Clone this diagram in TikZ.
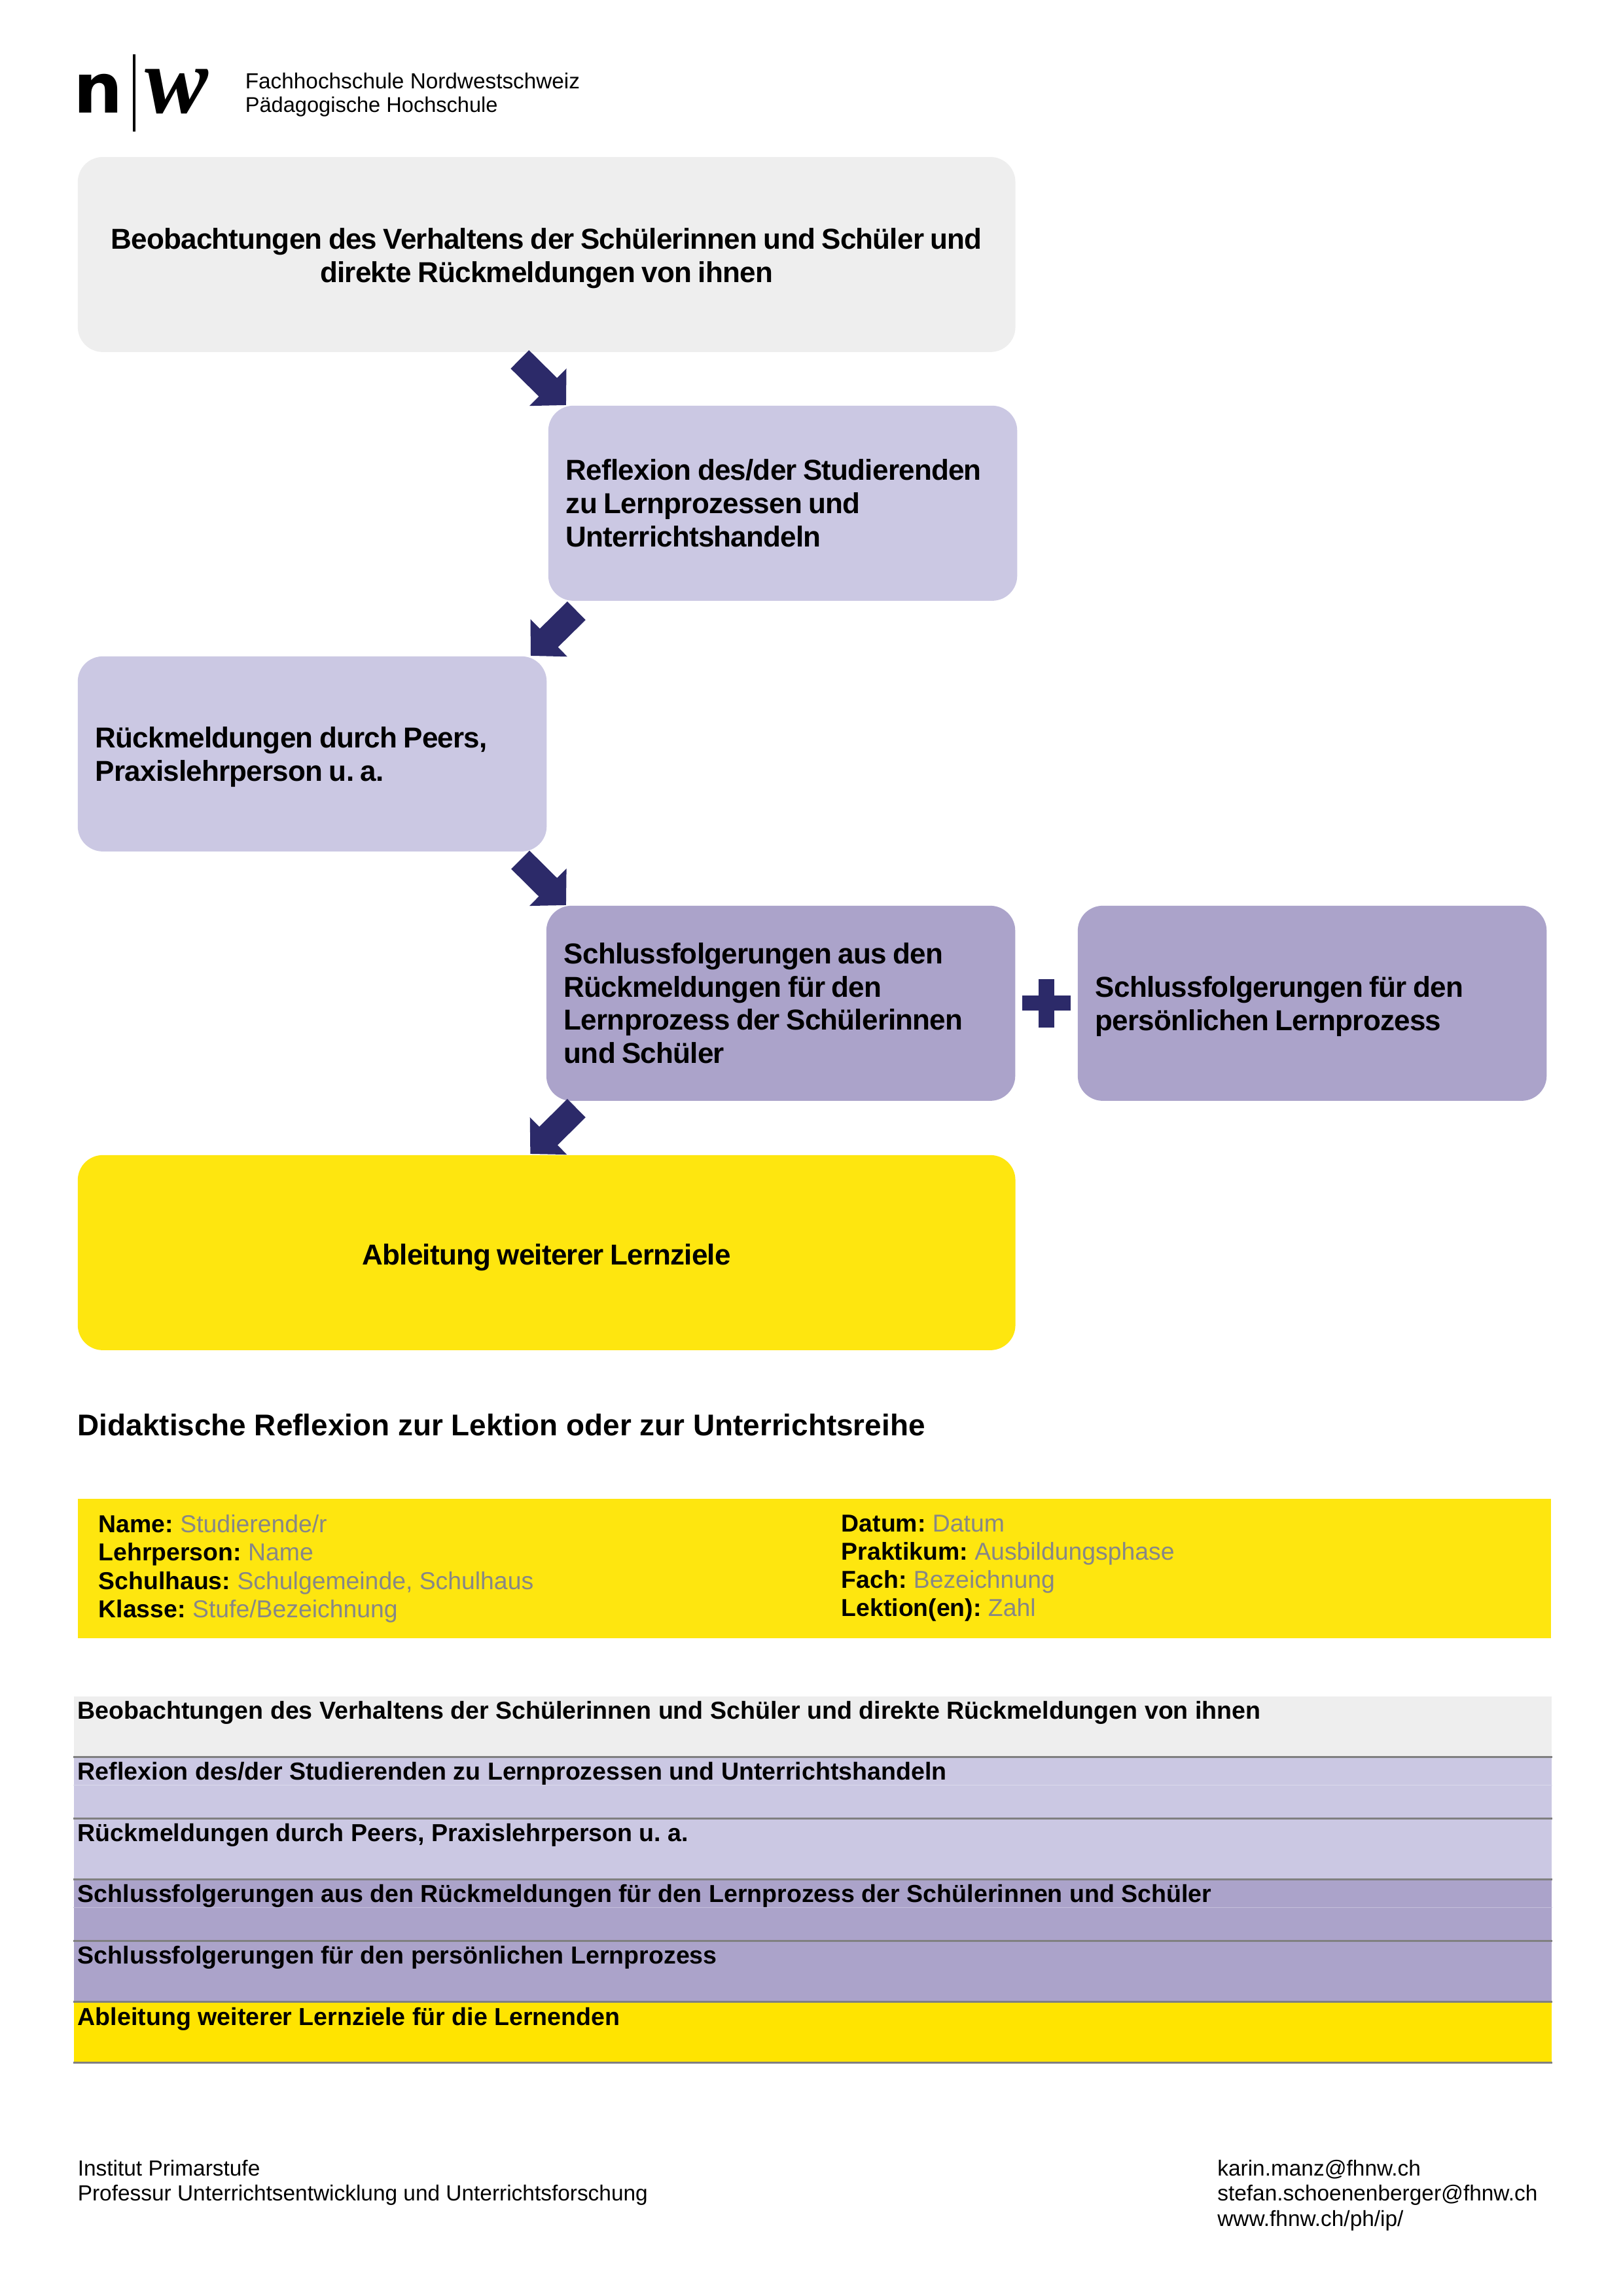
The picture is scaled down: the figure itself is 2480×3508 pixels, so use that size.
\documentclass[tikz,border=0pt]{standalone}
\usepackage{fontspec}
\setmainfont{Liberation Sans}
\newfontfamily\boxfont[LetterSpace=-1.8]{Liberation Sans}
\newfontfamily\logofont{Liberation Serif}
\newfontfamily\logosans{DejaVu Sans}
\usetikzlibrary{arrows.meta,calc}
\frenchspacing
\definecolor{greybox}{HTML}{EEEEEE}
\definecolor{lavbox}{HTML}{CBC8E3}
\definecolor{purplebox}{HTML}{ABA3CA}
\definecolor{navyarrow}{HTML}{2C2A69}
\definecolor{yellowbox}{HTML}{FEE60F}
\definecolor{yellowrow}{HTML}{FFE400}
\definecolor{ruleline}{HTML}{808080}
\definecolor{fieldgrey}{HTML}{878787}
\newcommand{\boxface}{\boxfont\bfseries\fontsize{10.6pt}{12.2pt}\selectfont\spaceskip 2.3pt\relax}
\tikzset{
  flowbox/.style={rectangle, rounded corners=9.2pt, anchor=north west, inner xsep=6.5pt, inner ysep=0pt,
    minimum height=71.8pt, text width=159.6pt, align=flush left, font=\boxface},
  widebox/.style={flowbox, text width=332.15pt, align=flush center},
  blockarrow/.style={draw=navyarrow, line width=9.54pt, -{Triangle[length=9.4pt,width=18.8pt]}},
  plusbar/.style={draw=navyarrow, line width=5.6pt},
  tablerow/.style={rectangle, anchor=north west, inner sep=0pt, minimum width=544pt, minimum height=22.5pt},
  rowtext/.style={anchor=base west, inner sep=0pt, font=\bfseries\fontsize{9.05pt}{10.4pt}\selectfont},
  rowrule/.style={draw=ruleline, line width=0.75pt},
  infotext/.style={anchor=north west, inner sep=0pt, align=left, font=\fontsize{9pt}{10.43pt}\selectfont},
  foottext/.style={anchor=north west, inner sep=0pt, align=left, font=\fontsize{8.05pt}{9.35pt}\selectfont},
}
\newcommand{\field}[2]{\textbf{#1:} \textcolor{fieldgrey}{#2}}
\newcommand{\dropline}[1]{\rule{0pt}{#1}}

\begin{document}
\begin{tikzpicture}[x=0.2409pt, y=-0.2409pt]
\useasboundingbox (0,0) rectangle (2480,3508);
% logo
\node (logon) [anchor=base west, inner sep=0pt, font=\logosans\bfseries\fontsize{25.5pt}{26pt}\selectfont] at (111.5,172) {n};
\draw[line width=0.85pt] (205,83) coordinate (logotop) -- (205,201) coordinate (logobot);
\node (logow) [anchor=base west, inner sep=0pt, font=\logofont\bfseries\itshape\fontsize{35pt}{35pt}\selectfont] at (221,172) {w};
\node (schoola) [anchor=base west, inner sep=0pt, font=\fontsize{8.03pt}{9pt}\selectfont] at (374,135) {Fachhochschule Nordwestschweiz};
\node (schoolb) [anchor=base west, inner sep=0pt, font=\fontsize{7.85pt}{9pt}\selectfont] at (374,171) {Pädagogische Hochschule};
% flow boxes
\node (beob) [widebox, fill=greybox] at (118,239) {\dropline{10.5pt}Beobachtungen des Verhaltens der Schülerinnen und Schüler und\\direkte Rückmeldungen von ihnen};
\node (refl) [flowbox, fill=lavbox] at (837,619) {Reflexion des/der Studierenden\\zu Lernprozessen und\\Unterrichtshandeln};
\node (rueck) [flowbox, fill=lavbox] at (118,1002) {\dropline{10pt}Rückmeldungen durch Peers,\\Praxislehrperson u. a.};
\node (schluss) [flowbox, fill=purplebox] at (834,1383) {Schlussfolgerungen aus den\\Rückmeldungen für den\\Lernprozess der Schülerinnen\\und Schüler};
\node (persoen) [flowbox, fill=purplebox] at (1646,1383) {\dropline{10pt}Schlussfolgerungen für den\\persönlichen Lernprozess};
\node (ableit) [widebox, fill=yellowbox] at (118,1764) {\dropline{11pt}Ableitung weiterer Lernziele};
% arrows
\draw[blockarrow] ([shift={(-40.9,10.4)}]beob.south) -- ([shift={(28,0)}]refl.north west);
\draw[blockarrow] ([shift={(43.85,14.4)}]refl.south west) -- ([shift={(-25.2,0)}]rueck.north east);
\draw[blockarrow] ([shift={(-41,12)}]rueck.south east) -- ([shift={(31,0)}]schluss.north west);
\draw[blockarrow] ([shift={(46.85,10.4)}]schluss.south west) -- ([shift={(-24.9,-1)}]ableit.north);
% plus
\coordinate (plusmid) at ($(schluss.east)!0.5!(persoen.west)$);
\draw[plusbar] ([shift={(-37,0)}]plusmid) -- ([shift={(37,0)}]plusmid);
\draw[plusbar] ([shift={(0,-37)}]plusmid) -- ([shift={(0,37)}]plusmid);
% heading
\node (heading) [anchor=base west, inner sep=0pt, font=\bfseries\fontsize{11.05pt}{13pt}\selectfont] at (118,2193) {Didaktische Reflexion zur Lektion oder zur Unterrichtsreihe};
% info band
\node (infoband) [anchor=north west, inner sep=0pt, fill=yellowbox, minimum width=542.3pt, minimum height=51.3pt] at (118,2289) {};
\node (infoleft) [infotext] at (150,2313.5) {\field{Name}{Studierende/r}\\\field{Lehrperson}{Name}\\\field{Schulhaus}{Schulgemeinde, Schulhaus}\\\field{Klasse}{Stufe/Bezeichnung}};
\node (inforight) [infotext] at (1285,2313.5) {\field{Datum}{Datum}\\\field{Praktikum}{Ausbildungsphase}\\\field{Fach}{Bezeichnung}\\\field{Lektion(en)}{Zahl}};
% table rows
\node (rowa) [tablerow, fill=greybox, minimum height=22.2pt] at (112,2591) {};
\node (rowb) [tablerow, fill=lavbox] at (112,2683) {};
\node (rowc) [tablerow, fill=lavbox] at (112,2776.5) {};
\node (rowd) [tablerow, fill=purplebox] at (112,2870) {};
\node (rowe) [tablerow, fill=purplebox] at (112,2963) {};
\node (rowf) [tablerow, fill=yellowrow] at (112,3056.5) {};
\draw[rowrule] (rowa.south west) -- (rowa.south east);
\draw[rowrule] (rowb.south west) -- (rowb.south east);
\draw[rowrule] (rowc.south west) -- (rowc.south east);
\draw[rowrule] (rowd.south west) -- (rowd.south east);
\draw[rowrule] (rowe.south west) -- (rowe.south east);
\draw[rowrule] (rowf.south west) -- (rowf.south east);
\draw[draw=lavbox!70!white, line width=0.25pt] ([shift={(0,44)}]rowb.north west) -- ([shift={(0,44)}]rowb.north east);
\draw[draw=purplebox!70!white, line width=0.25pt] ([shift={(0,44)}]rowd.north west) -- ([shift={(0,44)}]rowd.north east);
\node (rowatext) [rowtext] at (118,2626) {Beobachtungen des Verhaltens der Schülerinnen und Schüler und direkte Rückmeldungen von ihnen};
\node (rowbtext) [rowtext] at (118,2719.5) {Reflexion des/der Studierenden zu Lernprozessen und Unterrichtshandeln};
\node (rowctext) [rowtext] at (118,2813) {Rückmeldungen durch Peers, Praxislehrperson u. a.};
\node (rowdtext) [rowtext] at (118,2906.5) {Schlussfolgerungen aus den Rückmeldungen für den Lernprozess der Schülerinnen und Schüler};
\node (rowetext) [rowtext] at (118,3000) {Schlussfolgerungen für den persönlichen Lernprozess};
\node (rowftext) [rowtext] at (118,3094) {Ableitung weiterer Lernziele für die Lernenden};
% footer
\node (footleft) [foottext] at (118,3299) {Institut Primarstufe\\Professur Unterrichtsentwicklung und Unterrichtsforschung};
\node (footright) [foottext] at (1859.5,3299) {karin.manz@fhnw.ch\\stefan.schoenenberger@fhnw.ch\\www.fhnw.ch/ph/ip/};
\end{tikzpicture}
\end{document}
